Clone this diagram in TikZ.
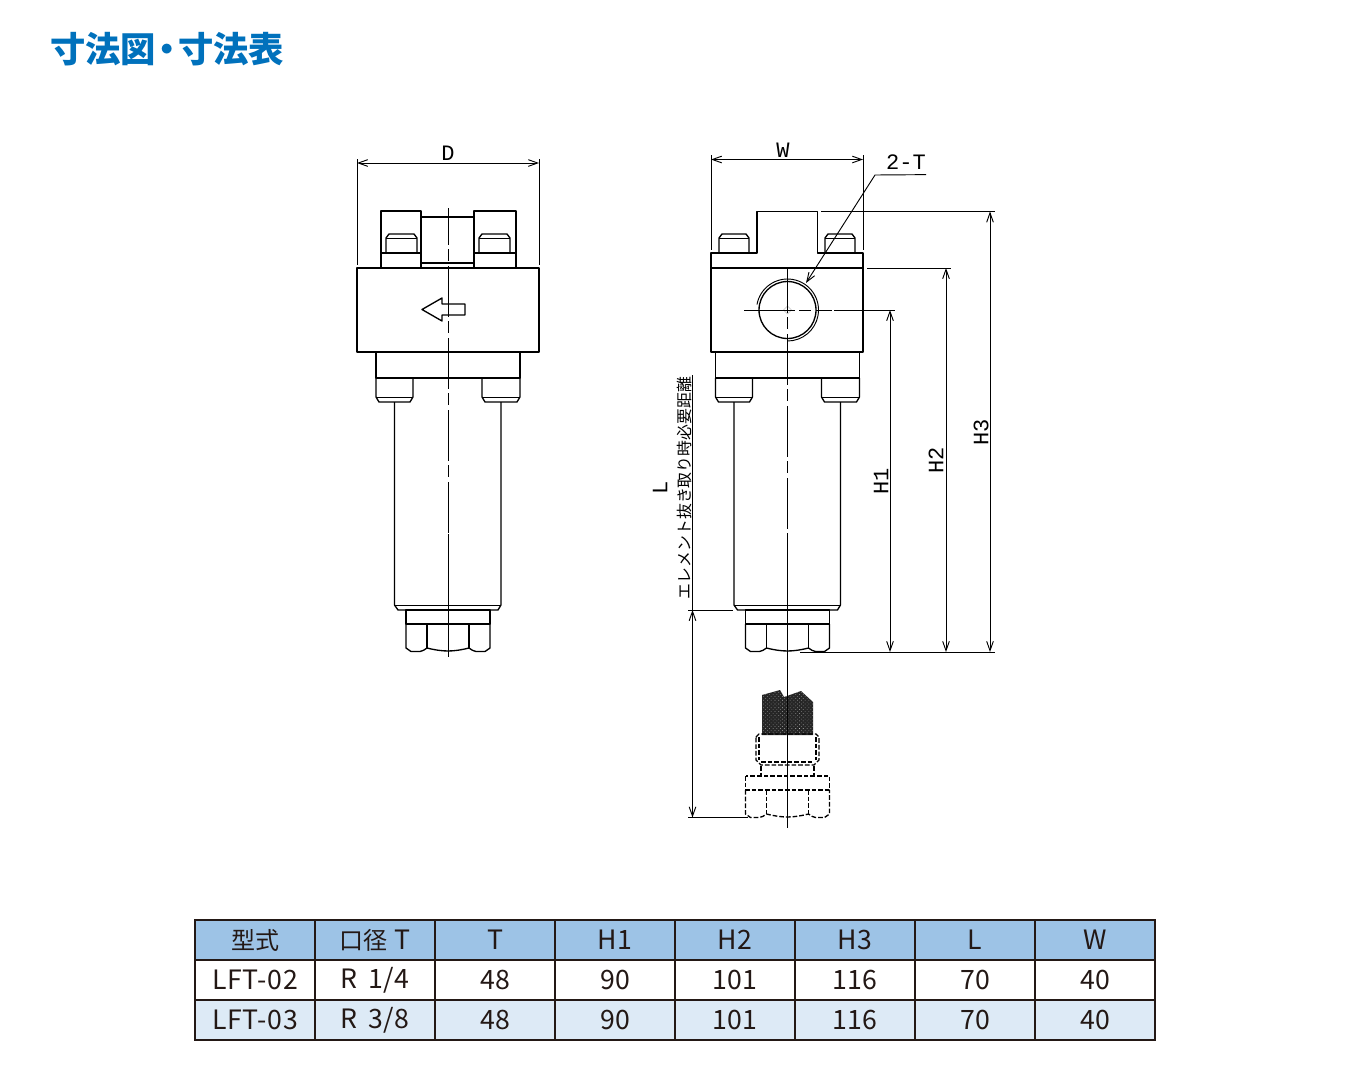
\documentclass[tikz,border=0pt]{standalone}
\usepackage{fontspec}
\usetikzlibrary{arrows.meta,patterns.meta}
\newfontfamily\cjk{Noto Sans CJK JP}
\newfontfamily\cjkwide[LetterSpace=3]{Noto Sans CJK JP}
\newfontfamily\cad{Liberation Mono}
\definecolor{titleblue}{HTML}{0071BC}
\definecolor{headblue}{HTML}{9DC3E6}
\definecolor{rowblue}{HTML}{DDEAF6}
\definecolor{inkblack}{HTML}{231815}
\tikzset{
    outline/.style={line width=1pt,line join=round},
    thinline/.style={line width=.7pt},
    centerline/.style={line width=.7pt,dash pattern=on 38pt off 3.5pt on 9pt off 3.5pt},
    dimarrow/.style={line width=.7pt,<->,>={Straight Barb[length=7pt,width=5pt]}},
    ghost/.style={line width=1pt,dash pattern=on 3.5pt off 1.5pt},
    cadtext/.style={font=\cad\fontsize{16.5}{16}\selectfont,inner sep=0pt},
    cell/.style={draw=inkblack,line width=1.5pt,minimum width=90pt,minimum height=30pt,inner sep=0pt,text=inkblack,font=\cjk\fontsize{20}{24}\selectfont},
}
\newcommand{\kanji}[1]{{\fontsize{18}{24}\selectfont #1}}
\newcommand{\capbolt}[5]{\draw[outline] (#1,#3) -- (#1,#5) -- (#1+3,#4) -- (#2-3,#4) -- (#2,#5) -- (#2,#3); \draw[thinline] (#1,#5) -- (#2,#5);}
\newcommand{\hexnut}[3]{\begin{scope}[shift={(#1,#2)},#3]
    \draw (-42,0) rectangle (42,14);
    \draw (-42,14) -- (-42,38) -- (-37,41.5) -- (-28,41.5) to[out=0,in=205] (-21,38) to[out=-14,in=194] (21,38) to[out=-25,in=180] (28,41.5) -- (37,41.5) -- (42,38) -- (42,14);
    \draw (-21,14) -- (-21,38) (21,14) -- (21,38);
    \end{scope}}
\newcommand{\lowerbody}[1]{\begin{scope}[shift={(#1,0)}]
    \draw[outline] (-72,352) rectangle (72,378);
    \capbolt{-72}{-35}{378}{402}{397} \capbolt{34}{72}{378}{402}{397}
    \draw[outline] (-53.5,402) -- (-53.5,605) -- (-50,610) -- (50,610) -- (53,605) -- (53,402);
    \draw[outline] (-53.5,605.5) -- (53,605.5);
    \end{scope}
    \hexnut{#1}{610}{outline}}
\begin{document}
\begin{tikzpicture}[x=.75pt,y=-.75pt]
    \useasboundingbox[fill=white] (0,0) rectangle (1350,1083);
    \node[anchor=west,inner sep=0pt,text=titleblue,font=\cjk\bfseries\fontsize{26.5}{30}\selectfont] (title) at (50,49) {寸法図\kern-5pt・\kern-5pt寸法表};

    % left view
    \draw[outline] (381,268) -- (381,211) -- (421,211) -- (421,268);
    \draw[outline] (474,268) -- (474,211) -- (516,211) -- (516,268);
    \draw[outline] (421,217) -- (474,217) (421,263) -- (474,263);
    \draw[outline] (381,253) -- (421,253) (474,253) -- (516,253);
    \capbolt{386}{417}{253}{234}{238} \capbolt{479}{510}{253}{234}{238}
    \draw[outline] (357,268) rectangle (539,352);
    \draw[outline] (422,309.5) -- (442,298) -- (442,304) -- (465,304) -- (465,315) -- (442,315) -- (442,321) -- cycle;
    \lowerbody{448}
    \draw[centerline,dash phase=10.5pt] (448,208) -- (448,534);
    \draw[thinline] (448,534) -- (448,657);
    \draw[thinline] (357,159) -- (357,265) (539,159) -- (539,265);
    \draw[dimarrow] (357,163) -- (539,163);
    \node[cadtext] (labelD) at (448,153) {D};

    % right view
    \draw[outline] (711,352) -- (711,253) -- (757,253) -- (757,211.5) -- (817.5,211.5) -- (817.5,253) -- (863,253) -- (863,352) -- cycle;
    \capbolt{719}{749}{253}{234}{238} \capbolt{825}{855}{253}{234}{238}
    \draw[outline] (711,268) -- (863,268);
    \draw[outline] (787.5,310) circle[radius=28.5];
    \draw[thinline] (787.5,310) ++(190:31) arc[start angle=190,end angle=450,radius=31];
    \draw[gray!50,line width=.3pt] (783.5,310) -- (787.5,306) -- (791.5,310) -- (787.5,314) -- cycle;
    \lowerbody{787.5}
    \draw[centerline,dash phase=3.75pt] (787.5,267) -- (787.5,534);
    \draw[thinline] (787.5,534) -- (787.5,828);
    \draw[centerline] (744,310) -- (832,310);
    \draw[thinline] (711,155) -- (711,250) (863,155) -- (863,250);
    \draw[dimarrow] (711,159.5) -- (863,159.5);
    \node[cadtext] (labelW) at (783,150) {W};
    \node[cadtext] (labelT) at (906,162) {2-T};
    \draw[thinline,->,>={Straight Barb[length=7pt,width=5pt]}] (labelT.south east) ++(0,5) -- (875,175) -- (806,283);

    % extension lines and heights
    \draw[thinline] (821,211.5) -- (995,211.5) (867,268) -- (951,268) (834,310) -- (895,310) (800,652) -- (995,652);
    \draw[dimarrow] (890,310) -- (890,652);
    \draw[dimarrow] (946,268) -- (946,652);
    \draw[dimarrow] (990,211.5) -- (990,652);
    \node[cadtext,rotate=90] (labelHa) at (881,481) {H1};
    \node[cadtext,rotate=90] (labelHb) at (936,460) {H2};
    \node[cadtext,rotate=90] (labelHc) at (981,432) {H3};

    % element removed
    \fill[black!85] (762,695) -- (780,690) -- (784,697) -- (801,691) -- (813,702) -- (813,735) -- (762,735) -- cycle;
    \fill[pattern={Dots[distance=2pt,radius=.3pt,angle=45]},pattern color=white!75!black] (762,695) -- (780,690) -- (784,697) -- (801,691) -- (813,702) -- (813,735) -- (762,735) -- cycle;
    \draw[thinline] (787.5,690) -- (787.5,735);
    \draw[ghost] (756,737) -- (759,734) -- (816,734) -- (819,737) -- (819,760) -- (814,765) -- (761,765) -- (756,760) -- cycle;
    \draw[ghost] (759,737) -- (759,760) (816,737) -- (816,760) (761,762) -- (814,762);
    \draw[ghost] (761,766) -- (761,776) (814,766) -- (814,776);
    \hexnut{787.5}{776}{ghost}

    \draw[thinline] (692.5,375) -- (692.5,610);
    \draw[thinline] (688,610) -- (733,610) (688,817.5) -- (748,817.5);
    \draw[dimarrow] (692.5,610) -- (692.5,817.5);
    \node[cadtext,rotate=90] (labelL) at (660,488) {L};
    \node[rotate=90,inner sep=0pt,font=\cjk\fontsize{11.9}{12}\selectfont] (labelEl) at (684,488) {エレメント抜き取り時必要距離};

    % table
    \foreach \t [count=\i from 0] in {\kanji{型式},\kanji{口径}\kern5pt T,T,H1,H2,H3,L,W}
        \node[cell,fill=headblue] (head\i) at (255+120*\i,940) {\t};
    \foreach \t [count=\i from 0] in {{\cjkwide LFT-02},{\cjkwide R\kern3pt{} 1/4},48,90,101,116,70,40}
        \node[cell,fill=white] (rowa\i) at (255+120*\i,980) {\t};
    \foreach \t [count=\i from 0] in {{\cjkwide LFT-03},{\cjkwide R\kern3pt{} 3/8},48,90,101,116,70,40}
        \node[cell,fill=rowblue] (rowb\i) at (255+120*\i,1020) {\t};
\end{tikzpicture}
\end{document}
